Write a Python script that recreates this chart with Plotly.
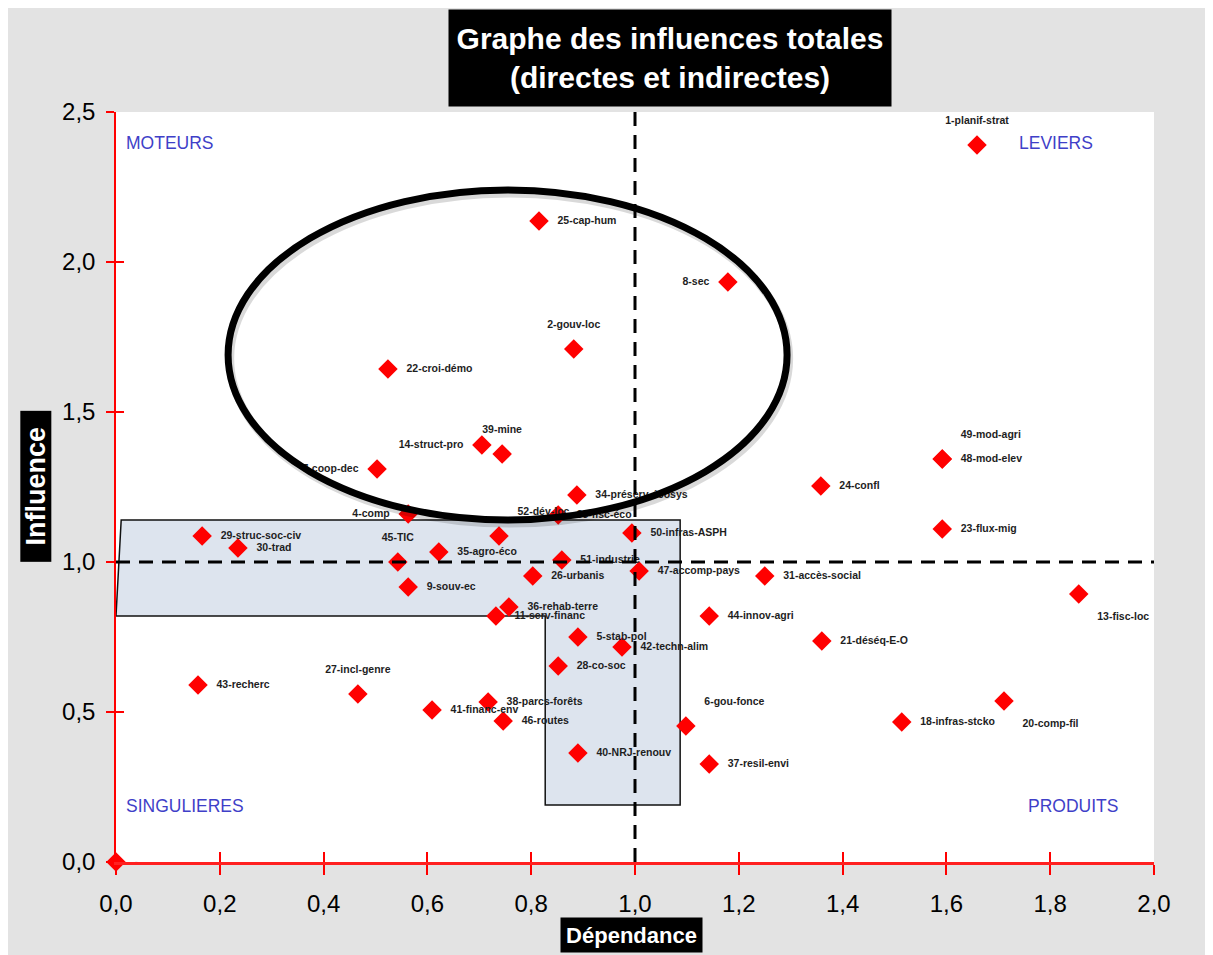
import plotly.graph_objects as go

# variables MICMAC : influence / dependance totales
labels = [
    "1-planif-strat", "25-cap-hum", "8-sec", "2-gouv-loc", "22-croi-démo",
    "14-struct-pro", "39-mine", "7-coop-dec", "34-préserv-écosys", "24-confl",
    "49-mod-agri", "48-mod-elev", "23-flux-mig", "4-comp", "45-TIC",
    "35-agro-éco", "9-souv-ec", "52-dév-loc", "33-fisc-éco", "51-industrie",
    "26-urbanis", "50-infras-ASPH", "47-accomp-pays", "36-rehab-terre", "11-serv-financ",
    "29-struc-soc-civ", "30-trad", "5-stab-pol", "42-techn-alim", "28-co-soc",
    "38-parcs-forêts", "46-routes", "40-NRJ-renouv", "6-gou-fonce", "37-resil-envi",
    "44-innov-agri", "27-incl-genre", "41-financ-env", "43-recherc", "31-accès-social",
    "21-déséq-E-O", "13-fisc-loc", "20-comp-fil", "18-infras-stcko", "-",
]
dependance = [
    1.659, 0.815, 1.179, 0.882, 0.524,
    0.705, 0.744, 0.503, 0.888, 1.358,
    1.592, 1.592, 1.592, 0.563, 0.543,
    0.622, 0.563, 0.738, 0.852, 0.859,
    0.803, 0.994, 1.008, 0.757, 0.732,
    0.166, 0.235, 0.890, 0.975, 0.852,
    0.717, 0.746, 0.890, 1.098, 1.143,
    1.143, 0.466, 0.609, 0.158, 1.250,
    1.360, 1.855, 1.711, 1.514, 0.0,
]
influence = [
    2.390, 2.137, 1.933, 1.710, 1.643,
    1.390, 1.360, 1.310, 1.223, 1.253,
    1.343, 1.343, 1.110, 1.160, 1.000,
    1.033, 0.917, 1.087, 1.157, 1.007,
    0.953, 1.097, 0.970, 0.850, 0.820,
    1.087, 1.047, 0.750, 0.717, 0.653,
    0.533, 0.470, 0.363, 0.453, 0.327,
    0.820, 0.560, 0.507, 0.590, 0.953,
    0.737, 0.893, 0.537, 0.467, 0.0,
]
xticks = [0, 0.2, 0.4, 0.6, 0.8, 1.0, 1.2, 1.4, 1.6, 1.8, 2.0]
yticks = [0, 0.5, 1.0, 1.5, 2.0, 2.5]

# placement des etiquettes
pos = {
    "1-planif-strat": "top center", "8-sec": "middle left", "2-gouv-loc": "top center",
    "14-struct-pro": "middle left", "39-mine": "top center", "7-coop-dec": "middle left",
    "49-mod-agri": "top right", "4-comp": "middle left", "45-TIC": "top center",
    "52-dév-loc": "top right", "6-gou-fonce": "top right", "27-incl-genre": "top center",
    "13-fisc-loc": "bottom right", "20-comp-fil": "bottom right",
}
textpos = [pos.get(l, "middle right") for l in labels]

sans = "Liberation Sans, Arial, sans-serif"
blue = "#3f3fc8"

fig = go.Figure()

fig.add_trace(go.Scatter(
    x=dependance, y=influence, mode="markers",
    marker=dict(symbol="diamond", size=15, color="#ff0000", line=dict(width=0)),
    cliponaxis=False, showlegend=False, hoverinfo="skip",
))
fig.add_trace(go.Scatter(
    x=dependance, y=influence, mode="markers+text", text=labels, textposition=textpos,
    marker=dict(size=28, color="rgba(0,0,0,0)"),
    textfont=dict(family=sans, size=10.5, color="#1e1e1e", weight="bold"),
    cliponaxis=False, showlegend=False, hoverinfo="skip",
))
# trace vide pour faire apparaitre les graduations croisees (axes superposes)
fig.add_trace(go.Scatter(x=[0], y=[0], xaxis="x2", yaxis="y2", mode="markers",
                         marker=dict(opacity=0), showlegend=False, hoverinfo="skip"))

shapes = [
    # zone grisee
    dict(type="path", xref="x", yref="y",
         path="M 0.01,1.14 L 1.087,1.14 L 1.087,0.19 L 0.827,0.19 L 0.827,0.82 L 0,0.82 Z",
         fillcolor="#dde4ee", line=dict(color="#111", width=1.5), layer="below"),
    # seuils
    dict(type="line", xref="x", yref="y", x0=1.0, x1=1.0, y0=0, y1=2.5,
         line=dict(color="black", width=3, dash="14px,9px"), layer="above"),
    dict(type="line", xref="x", yref="y", x0=0, x1=2.0, y0=1.0, y1=1.0,
         line=dict(color="black", width=3, dash="14px,9px"), layer="above"),
    # ellipse
    dict(type="circle", xref="x", yref="y", x0=0.220, x1=1.297, y0=1.128, y1=2.228,
         line=dict(color="rgba(0,0,0,0.15)", width=8), layer="above"),
    dict(type="circle", xref="x", yref="y", x0=0.216, x1=1.293, y0=1.14, y1=2.24,
         line=dict(color="black", width=7), layer="above"),
]

annotations = [
    dict(text="Graphe des influences totales<br>(directes et indirectes)", xref="paper", yref="paper",
         x=0.534, y=1.072, xanchor="center", yanchor="middle", showarrow=False,
         bgcolor="black", width=440, height=94,
         font=dict(family=sans, size=30, color="white", weight="bold")),
    dict(text="Dépendance", xref="paper", yref="paper", x=0.4966, y=-0.0973,
         xanchor="center", yanchor="middle", showarrow=False,
         bgcolor="black", width=139, height=32,
         font=dict(family=sans, size=22, color="white", weight="bold")),
    dict(text="Influence", xref="paper", yref="paper", x=-0.077, y=0.501,
         xanchor="center", yanchor="middle", showarrow=False,
         textangle=-90, bgcolor="black", width=148, height=28,
         font=dict(family=sans, size=27, color="white", weight="bold")),
    dict(text="MOTEURS", x=0.104, y=2.397, showarrow=False, font=dict(family=sans, size=17.5, color=blue)),
    dict(text="LEVIERS", x=1.811, y=2.397, showarrow=False, font=dict(family=sans, size=17.5, color=blue)),
    dict(text="SINGULIERES", x=0.133, y=0.187, showarrow=False, font=dict(family=sans, size=17.5, color=blue)),
    dict(text="PRODUITS", x=1.844, y=0.187, showarrow=False, font=dict(family=sans, size=17.5, color=blue)),
]

# la page ajoute une marge de 8 px en haut/gauche : marges reduites d'autant
fig.update_layout(
    width=1213, height=955,
    margin=dict(l=108, r=67, t=104, b=101),
    paper_bgcolor="#e3e3e3", plot_bgcolor="white",
    separators=", ",
    shapes=shapes, annotations=annotations,
    font=dict(family=sans, color="black"),
    xaxis=dict(range=[0, 2.0], tickvals=xticks,
               tickformat=".1f", showgrid=False, zeroline=False,
               showline=True, linecolor="#ff2020", linewidth=3,
               ticks="outside", ticklen=10, tickwidth=1.5, tickcolor="red",
               ticklabelstandoff=8, tickfont=dict(family=sans, size=24, color="black")),
    yaxis=dict(range=[0, 2.5], tickvals=yticks,
               tickformat=".1f", showgrid=False, zeroline=False,
               showline=True, linecolor="red", linewidth=1.5,
               ticks="outside", ticklen=8, tickwidth=1.5, tickcolor="red",
               ticklabelstandoff=6, tickfont=dict(family=sans, size=24, color="black")),
    xaxis2=dict(overlaying="x", anchor="y2", side="bottom", range=[0, 2.0], tickvals=xticks,
                ticks="inside", ticklen=10, tickwidth=1.5, tickcolor="red",
                showticklabels=False, showgrid=False, zeroline=False, showline=False),
    yaxis2=dict(overlaying="y", anchor="x2", side="left", range=[0, 2.5], tickvals=yticks,
                ticks="inside", ticklen=8, tickwidth=1.5, tickcolor="red",
                showticklabels=False, showgrid=False, zeroline=False, showline=False),
)

fig.write_html("out.html")
